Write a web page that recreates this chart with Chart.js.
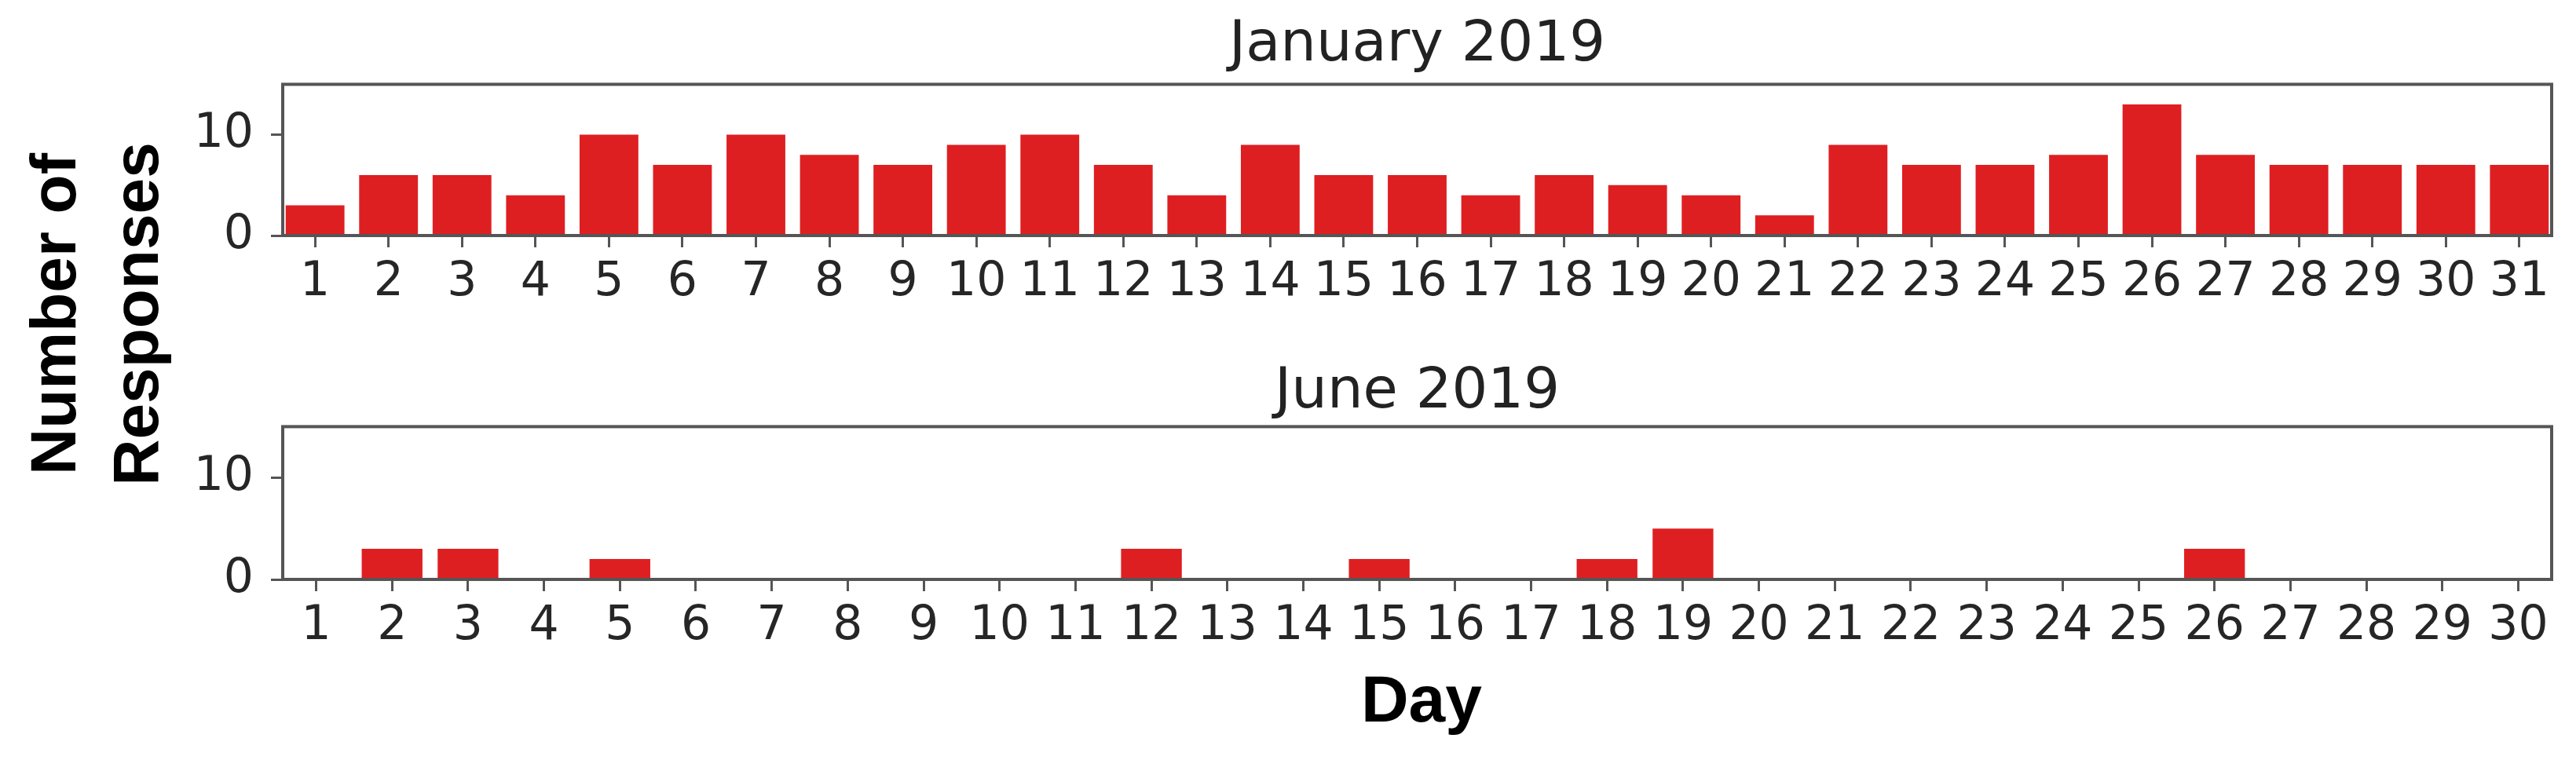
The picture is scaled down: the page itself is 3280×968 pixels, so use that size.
<!DOCTYPE html>
<html>
<head>
<meta charset="utf-8">
<script src="https://cdn.jsdelivr.net/npm/chart.js@4"></script>
<style>
  html, body { margin: 0; padding: 0; background: #fff; }
  #wrap { position: relative; width: 3280px; height: 968px; overflow: hidden; }
  canvas { position: absolute; left: 0; }
  #top { top: 0; }
  #bottom { top: 420px; }
  .lbl { position: absolute; font-family: "Liberation Sans", Arial, sans-serif; font-weight: bold; color: #000; }
  #ylab { width: 500px; left: -130px; top: 295px; height: 210px; line-height: 105px; font-size: 82px;
          text-align: center; transform: rotate(-90deg); white-space: nowrap; }
  #xlab { left: 1610px; width: 400px; top: 840px; font-size: 84px; line-height: 100px; text-align: center; }
</style>
</head>
<body>
<div id="wrap">
  <canvas id="top" width="3280" height="390"></canvas>
  <canvas id="bottom" width="3280" height="408"></canvas>
  <div class="lbl" id="ylab">Number of<br>Responses</div>
  <div class="lbl" id="xlab">Day</div>
</div>
<script>
var janDays = [1,2,3,4,5,6,7,8,9,10,11,12,13,14,15,16,17,18,19,20,21,22,23,24,25,26,27,28,29,30,31];
var janResponses = [3,6,6,4,10,7,10,8,7,9,10,7,4,9,6,6,4,6,5,4,2,9,7,7,8,13,8,7,7,7,7];

var junDays = [1,2,3,4,5,6,7,8,9,10,11,12,13,14,15,16,17,18,19,20,21,22,23,24,25,26,27,28,29,30];
var junResponses = [0,3,3,0,2,0,0,0,0,0,0,3,0,0,2,0,0,2,5,0,0,0,0,0,0,3,0,0,0,0];

var yTicks = [0, 10];
var barColor = 'rgb(222, 31, 34)';
var axisColor = '#555555';
var tickFont = { family: 'DejaVu Sans', size: 60 };

// box round each plot, drawn after the bars like matplotlib spines
var framePlugin = {
	id: 'frame',
	afterDatasetsDraw: function(chart) {
		var a = chart.chartArea;
		var ctx = chart.ctx;
		ctx.save();
		ctx.strokeStyle = axisColor;
		ctx.lineWidth = 4;
		ctx.strokeRect(a.left, a.top, a.right - a.left, a.bottom - a.top);
		ctx.restore();
	}
};

var createBars = function(ctx, title, days, values, titlePad) {
	return new Chart(ctx, {
		type: 'bar',
		data: {
			labels: days,
			datasets: [{
				data: values,
				backgroundColor: barColor,
				borderWidth: 0,
				barPercentage: 0.8,
				categoryPercentage: 1.0
			}]
		},
		options: {
			responsive: false,
			animation: false,
			devicePixelRatio: 1,
			layout: { padding: { left: 0, right: 31, top: 0, bottom: 0 } },
			plugins: {
				legend: { display: false },
				tooltip: { enabled: false },
				title: {
					display: true,
					fullSize: false,
					text: title,
					color: '#222',
					font: { family: 'DejaVu Sans', size: 72, weight: 'normal', lineHeight: 1.2 },
					padding: titlePad
				}
			},
			scales: {
				x: {
					type: 'linear',
					offset: false,
					min: 0.56,
					max: days.length + 0.44,
					border: { display: false },
					grid: { offset: false, drawOnChartArea: false, drawTicks: true, tickLength: 15, color: axisColor, lineWidth: 3 },
					ticks: { color: '#262626', font: tickFont, padding: 9, autoSkip: false, maxRotation: 0, minRotation: 0 },
					afterBuildTicks: function(scale) {
						scale.ticks = days.map(function(d) { return { value: d }; });
					},
					afterFit: function(scale) { scale.height = 90; }
				},
				y: {
					min: 0,
					max: 15,
					border: { display: false },
					grid: { drawOnChartArea: false, drawTicks: true, tickLength: 15, color: axisColor, lineWidth: 3 },
					ticks: { color: '#262626', font: tickFont, padding: 22 },
					afterBuildTicks: function(scale) {
						scale.ticks = yTicks.map(function(v) { return { value: v }; });
					},
					afterFit: function(scale) { scale.width = 360; }
				}
			}
		},
		plugins: [framePlugin]
	});
};

createBars(document.getElementById('top'), 'January 2019', janDays, janResponses, { top: 15, bottom: 6 });
createBars(document.getElementById('bottom'), 'June 2019', junDays, junResponses, { top: 37, bottom: 0 });
</script>
</body>
</html>
